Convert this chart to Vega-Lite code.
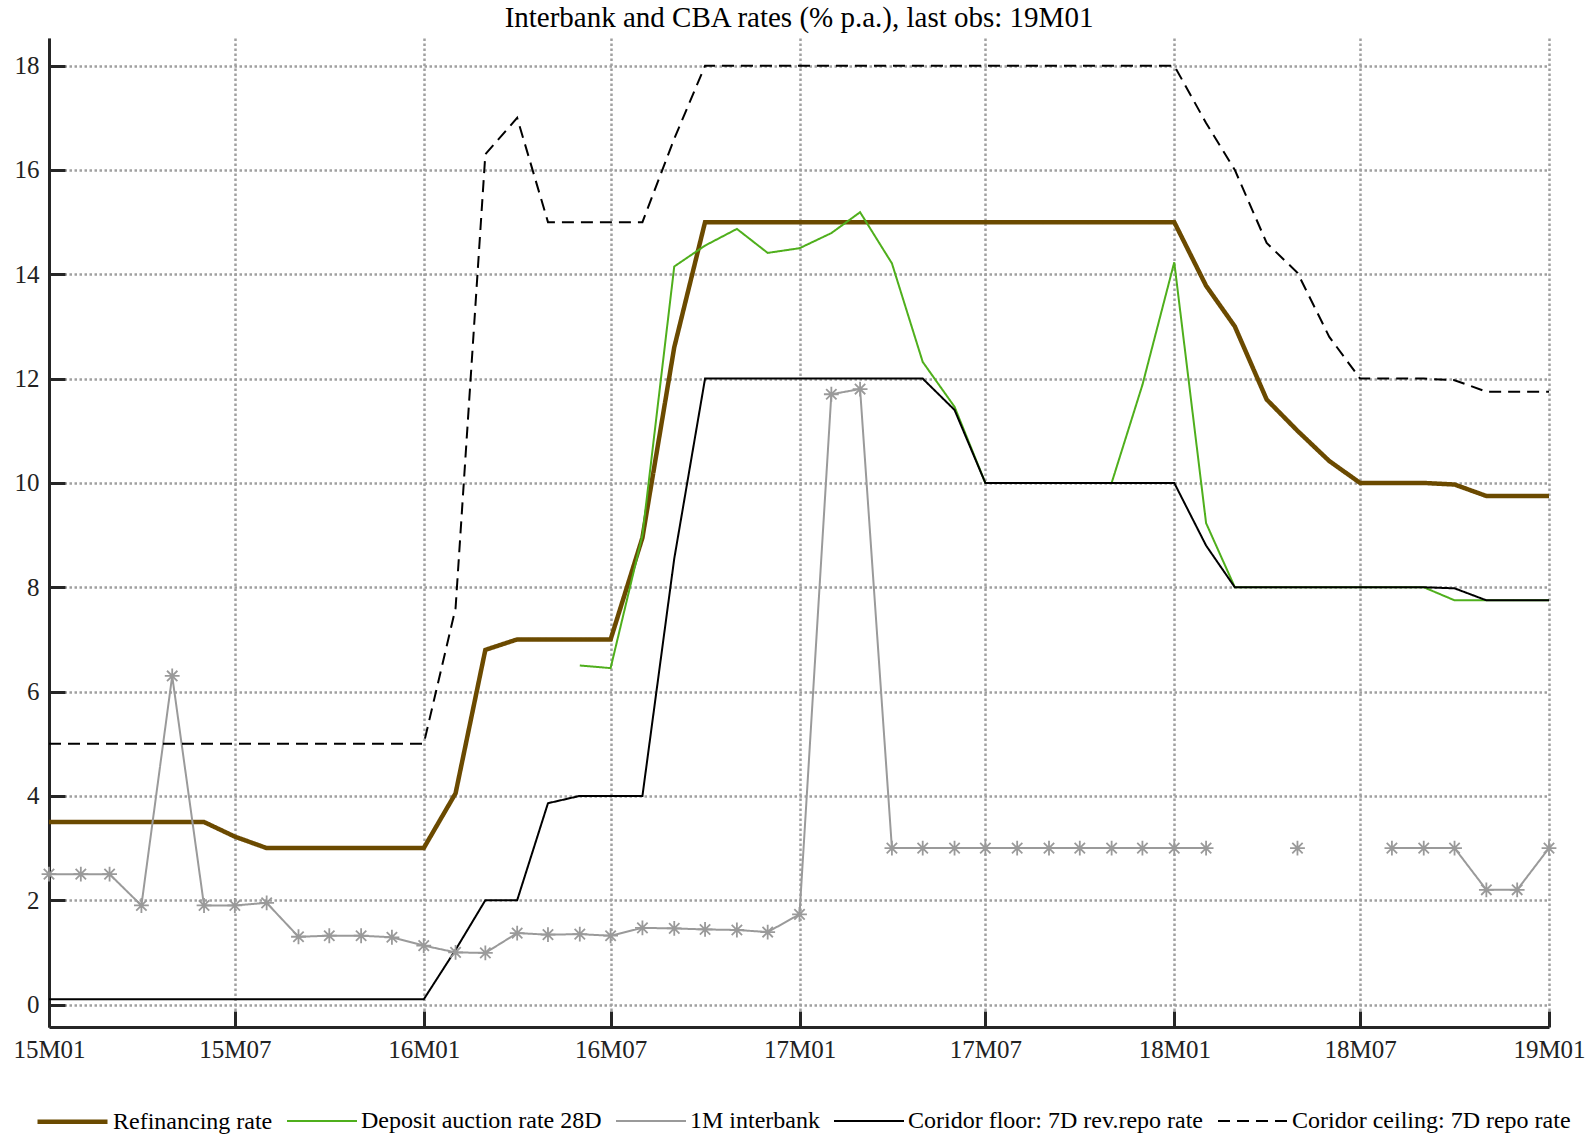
{
  "$schema": "https://vega.github.io/schema/vega-lite/v6.json",
  "width": 1500,
  "height": 989,
  "autosize": {"type": "none"},
  "padding": {"left": 49, "top": 38, "right": 47, "bottom": 113},
  "background": "white",
  "title": {"text": "Interbank and CBA rates (% p.a.), last obs: 19M01", "font": "Liberation Serif", "fontSize": 29, "fontWeight": "normal", "color": "#000", "anchor": "middle", "offset": 5},
  "config": {
    "view": {"stroke": null},
    "font": "Liberation Serif",
    "axis": {"labelFont": "Liberation Serif", "labelFontSize": 25, "labelColor": "#222", "domainColor": "#262626", "domainWidth": 3, "tickColor": "#262626", "tickWidth": 3, "gridColor": "#a0a0a0", "gridWidth": 2.5, "gridDash": [2.5, 2.5], "gridOpacity": 1, "title": null}
  },
  "data": {"values": [
    {"d": "2015-01-01", "ref": 3.5, "dep": null, "ib": 2.5, "floor": 0.1, "ceil": 5},
    {"d": "2015-02-01", "ref": 3.5, "dep": null, "ib": 2.5, "floor": 0.1, "ceil": 5},
    {"d": "2015-03-01", "ref": 3.5, "dep": null, "ib": 2.5, "floor": 0.1, "ceil": 5},
    {"d": "2015-04-01", "ref": 3.5, "dep": null, "ib": 1.9, "floor": 0.1, "ceil": 5},
    {"d": "2015-05-01", "ref": 3.5, "dep": null, "ib": 6.3, "floor": 0.1, "ceil": 5},
    {"d": "2015-06-01", "ref": 3.5, "dep": null, "ib": 1.9, "floor": 0.1, "ceil": 5},
    {"d": "2015-07-01", "ref": 3.22, "dep": null, "ib": 1.9, "floor": 0.1, "ceil": 5},
    {"d": "2015-08-01", "ref": 3.0, "dep": null, "ib": 1.95, "floor": 0.1, "ceil": 5},
    {"d": "2015-09-01", "ref": 3.0, "dep": null, "ib": 1.3, "floor": 0.1, "ceil": 5},
    {"d": "2015-10-01", "ref": 3.0, "dep": null, "ib": 1.32, "floor": 0.1, "ceil": 5},
    {"d": "2015-11-01", "ref": 3.0, "dep": null, "ib": 1.32, "floor": 0.1, "ceil": 5},
    {"d": "2015-12-01", "ref": 3.0, "dep": null, "ib": 1.29, "floor": 0.1, "ceil": 5},
    {"d": "2016-01-01", "ref": 3.0, "dep": null, "ib": 1.13, "floor": 0.1, "ceil": 5},
    {"d": "2016-02-01", "ref": 4.05, "dep": null, "ib": 1.0, "floor": 1.05, "ceil": 7.6},
    {"d": "2016-03-01", "ref": 6.8, "dep": null, "ib": 0.99, "floor": 2.0, "ceil": 16.3},
    {"d": "2016-04-01", "ref": 7.0, "dep": null, "ib": 1.37, "floor": 2.0, "ceil": 17.0},
    {"d": "2016-05-01", "ref": 7.0, "dep": null, "ib": 1.34, "floor": 3.86, "ceil": 15},
    {"d": "2016-06-01", "ref": 7.0, "dep": 6.5, "ib": 1.35, "floor": 4.0, "ceil": 15},
    {"d": "2016-07-01", "ref": 7.0, "dep": 6.45, "ib": 1.32, "floor": 4.0, "ceil": 15},
    {"d": "2016-08-01", "ref": 8.95, "dep": 9.0, "ib": 1.47, "floor": 4.0, "ceil": 15},
    {"d": "2016-09-01", "ref": 12.6, "dep": 14.15, "ib": 1.46, "floor": 8.55, "ceil": 16.6},
    {"d": "2016-10-01", "ref": 15, "dep": 14.55, "ib": 1.44, "floor": 12, "ceil": 18},
    {"d": "2016-11-01", "ref": 15, "dep": 14.87, "ib": 1.43, "floor": 12, "ceil": 18},
    {"d": "2016-12-01", "ref": 15, "dep": 14.41, "ib": 1.39, "floor": 12, "ceil": 18},
    {"d": "2017-01-01", "ref": 15, "dep": 14.5, "ib": 1.73, "floor": 12, "ceil": 18},
    {"d": "2017-02-01", "ref": 15, "dep": 14.79, "ib": 11.7, "floor": 12, "ceil": 18},
    {"d": "2017-03-01", "ref": 15, "dep": 15.19, "ib": 11.8, "floor": 12, "ceil": 18},
    {"d": "2017-04-01", "ref": 15, "dep": 14.21, "ib": 3.0, "floor": 12, "ceil": 18},
    {"d": "2017-05-01", "ref": 15, "dep": 12.32, "ib": 3.0, "floor": 12, "ceil": 18},
    {"d": "2017-06-01", "ref": 15, "dep": 11.46, "ib": 3.0, "floor": 11.4, "ceil": 18},
    {"d": "2017-07-01", "ref": 15, "dep": 10, "ib": 3.0, "floor": 10, "ceil": 18},
    {"d": "2017-08-01", "ref": 15, "dep": 10, "ib": 3.0, "floor": 10, "ceil": 18},
    {"d": "2017-09-01", "ref": 15, "dep": 10, "ib": 3.0, "floor": 10, "ceil": 18},
    {"d": "2017-10-01", "ref": 15, "dep": 10, "ib": 3.0, "floor": 10, "ceil": 18},
    {"d": "2017-11-01", "ref": 15, "dep": 10, "ib": 3.0, "floor": 10, "ceil": 18},
    {"d": "2017-12-01", "ref": 15, "dep": 11.88, "ib": 3.0, "floor": 10, "ceil": 18},
    {"d": "2018-01-01", "ref": 15, "dep": 14.23, "ib": 3.0, "floor": 10, "ceil": 18},
    {"d": "2018-02-01", "ref": 13.78, "dep": 9.23, "ib": 3.0, "floor": 8.8, "ceil": 16.9},
    {"d": "2018-03-01", "ref": 13.0, "dep": 8.0, "ib": null, "floor": 8, "ceil": 16.0},
    {"d": "2018-04-01", "ref": 11.6, "dep": 8.0, "ib": null, "floor": 8, "ceil": 14.6},
    {"d": "2018-05-01", "ref": 11.0, "dep": 8.0, "ib": 3.0, "floor": 8, "ceil": 14.03},
    {"d": "2018-06-01", "ref": 10.42, "dep": 8.0, "ib": null, "floor": 8, "ceil": 12.8},
    {"d": "2018-07-01", "ref": 10.0, "dep": 8.0, "ib": null, "floor": 8, "ceil": 12},
    {"d": "2018-08-01", "ref": 10.0, "dep": 8.0, "ib": 3.0, "floor": 8, "ceil": 12},
    {"d": "2018-09-01", "ref": 10.0, "dep": 8.0, "ib": 3.0, "floor": 8, "ceil": 12},
    {"d": "2018-10-01", "ref": 9.97, "dep": 7.75, "ib": 3.0, "floor": 7.98, "ceil": 11.97},
    {"d": "2018-11-01", "ref": 9.75, "dep": 7.75, "ib": 2.2, "floor": 7.75, "ceil": 11.75},
    {"d": "2018-12-01", "ref": 9.75, "dep": 7.75, "ib": 2.2, "floor": 7.75, "ceil": 11.75},
    {"d": "2019-01-01", "ref": 9.75, "dep": 7.75, "ib": 3.0, "floor": 7.75, "ceil": 11.75}
  ]},
  "transform": [{"fold": ["ref", "dep", "ib", "floor", "ceil"], "as": ["key", "val"]}],
  "encoding": {
    "x": {"field": "d", "type": "temporal",
      "scale": {"type": "utc", "domain": [{"year": 2015, "month": 1, "date": 1, "utc": true}, {"year": 2019, "month": 1, "date": 1, "utc": true}]},
      "axis": {"values": [{"year": 2015, "month": 1, "date": 1, "utc": true}, {"year": 2015, "month": 7, "date": 1, "utc": true}, {"year": 2016, "month": 1, "date": 1, "utc": true}, {"year": 2016, "month": 7, "date": 1, "utc": true}, {"year": 2017, "month": 1, "date": 1, "utc": true}, {"year": 2017, "month": 7, "date": 1, "utc": true}, {"year": 2018, "month": 1, "date": 1, "utc": true}, {"year": 2018, "month": 7, "date": 1, "utc": true}, {"year": 2019, "month": 1, "date": 1, "utc": true}],
        "labelExpr": "utcFormat(datum.value, '%y') + 'M' + utcFormat(datum.value, '%m')",
        "tickSize": -16, "labelPadding": 26, "grid": true, "labelFlush": false}},
    "y": {"field": "val", "type": "quantitative",
      "scale": {"domain": [-0.43, 18.53], "nice": false, "zero": false},
      "axis": {"values": [0, 2, 4, 6, 8, 10, 12, 14, 16, 18], "tickSize": -16, "labelPadding": 26, "grid": true}}
  },
  "layer": [
    {
      "mark": {"type": "line", "interpolate": "linear"},
      "encoding": {
        "color": {"field": "key", "type": "nominal",
          "scale": {"domain": ["ref", "dep", "ib", "floor", "ceil"], "range": ["#6b4a00", "#4faf1c", "#9a9a9a", "#000000", "#000000"]},
          "legend": {"title": null, "orient": "none", "legendX": -14, "legendY": 1046, "direction": "horizontal", "symbolType": "stroke", "symbolSize": 4900, "labelFont": "Liberation Serif", "labelFontSize": 24, "labelColor": "#000", "labelOffset": 3, "columnPadding": 10, "labelLimit": 500,
            "labelExpr": "datum.label == 'ref' ? 'Refinancing rate' : datum.label == 'dep' ? 'Deposit auction rate 28D' : datum.label == 'ib' ? '1M interbank' : datum.label == 'floor' ? 'Coridor floor: 7D rev.repo rate' : 'Coridor ceiling: 7D repo rate'"}},
        "strokeDash": {"field": "key", "type": "nominal",
          "scale": {"domain": ["ref", "dep", "ib", "floor", "ceil"], "range": [[1, 0], [1, 0], [1, 0], [1, 0], [12, 7]]}},
        "strokeWidth": {"field": "key", "type": "nominal",
          "scale": {"type": "ordinal", "domain": ["ref", "dep", "ib", "floor", "ceil"], "range": [4.5, 2, 2, 2, 2]}}
      }
    },
    {
      "transform": [{"filter": "datum.key == 'ib' && isValid(datum.val)"}],
      "mark": {"type": "point", "shape": "M-1,0L1,0M0,-1L0,1M-0.7,-0.7L0.7,0.7M-0.7,0.7L0.7,-0.7", "filled": false, "stroke": "#9a9a9a", "strokeWidth": 1.8, "size": 220, "opacity": 1}
    }
  ]
}
